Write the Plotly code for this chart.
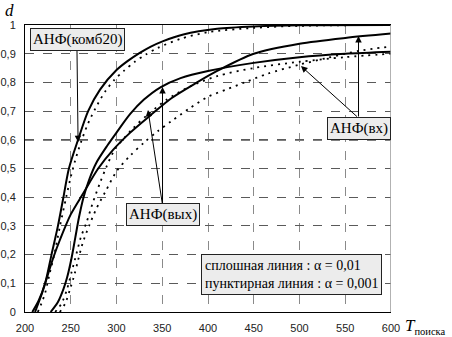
import plotly.graph_objects as go

# ---- data ----
t_komb_solid = [208, 215, 222, 229, 236, 242, 248, 258, 269, 282, 300, 312, 325, 337, 351, 373, 410, 450, 500, 600]
d_komb_solid = [0, 0.04, 0.1, 0.2, 0.3, 0.4, 0.5, 0.6, 0.7, 0.775, 0.843, 0.874, 0.902, 0.924, 0.944, 0.967, 0.987, 0.995, 0.999, 1.0]

t_komb_dot = [214, 218, 222, 227, 232, 238, 245, 250, 255, 261, 268, 277, 288, 298, 308, 320, 332, 345, 370, 400, 450, 500, 600]
d_komb_dot = [0, 0.03, 0.066, 0.135, 0.2, 0.296, 0.4, 0.47, 0.53, 0.59, 0.65, 0.71, 0.77, 0.81, 0.84, 0.872, 0.897, 0.92, 0.952, 0.975, 0.99, 0.997, 1.0]

t_vx_solid = [211, 218, 224, 231, 238, 250, 263, 280, 296, 315, 337, 360, 388, 410, 450, 500, 550, 600]
d_vx_solid = [0, 0.06, 0.12, 0.19, 0.25, 0.34, 0.41, 0.5, 0.564, 0.625, 0.685, 0.745, 0.8, 0.84, 0.9, 0.935, 0.955, 0.97]

t_vx_dot = [238, 244, 249, 254, 258, 263, 270, 278, 288, 300, 315, 330, 345, 360, 380, 400, 420, 440, 465, 500, 530, 565, 600]
d_vx_dot = [0, 0.03, 0.077, 0.13, 0.18, 0.24, 0.3, 0.36, 0.42, 0.49, 0.545, 0.59, 0.63, 0.665, 0.71, 0.75, 0.775, 0.8, 0.83, 0.862, 0.885, 0.91, 0.925]

t_vyh_solid = [228, 236, 242, 246, 251, 255, 259, 264, 270, 278, 290, 300, 315, 330, 348, 370, 400, 450, 500, 550, 600]
d_vyh_solid = [0, 0.035, 0.08, 0.12, 0.19, 0.26, 0.33, 0.4, 0.46, 0.52, 0.58, 0.625, 0.69, 0.74, 0.783, 0.815, 0.84, 0.868, 0.888, 0.9, 0.907]

t_vyh_dot = [233, 240, 246, 251, 256, 261, 267, 274, 282, 289, 298, 318, 335, 355, 380, 410, 450, 500, 550, 600]
d_vyh_dot = [0, 0.03, 0.08, 0.14, 0.2, 0.26, 0.31, 0.38, 0.45, 0.506, 0.565, 0.64, 0.69, 0.74, 0.785, 0.822, 0.85, 0.872, 0.888, 0.9]

x_ticks = [200, 250, 300, 350, 400, 450, 500, 550, 600]
x_tick_labels = ["200", "250", "300", "350", "400", "450", "500", "550", "600"]
y_ticks = [0, 0.1, 0.2, 0.3, 0.4, 0.5, 0.6, 0.7, 0.8, 0.9, 1.0]
y_tick_labels = ["0", "0,1", "0,2", "0,3", "0,4", "0,5", "0,6", "0,7", "0,8", "0,9", "1"]

SERIF = "Liberation Serif"
SANS = "Liberation Sans"

W, H = 452, 337
ML, MR, MT, MB = 25, 61, 25, 25
PW, PH = W - ML - MR, H - MT - MB

fig = go.Figure()

solid = dict(color="black", width=2)
dotted = dict(color="black", width=1.8, dash="2px,5px")

for t, d in [(t_komb_solid, d_komb_solid), (t_vx_solid, d_vx_solid), (t_vyh_solid, d_vyh_solid)]:
    fig.add_trace(go.Scatter(x=t, y=d, mode="lines", line=dict(**solid, shape="spline", smoothing=0.8),
                             showlegend=False, hoverinfo="skip"))
for t, d in [(t_komb_dot, d_komb_dot), (t_vx_dot, d_vx_dot), (t_vyh_dot, d_vyh_dot)]:
    fig.add_trace(go.Scatter(x=t, y=d, mode="lines", line=dict(**dotted, shape="spline", smoothing=0.8),
                             showlegend=False, hoverinfo="skip"))

annotations = []

def box_label(text, x, y):
    annotations.append(dict(x=x, y=y, xref="x", yref="y", text=text, showarrow=False,
                            font=dict(family=SERIF, size=15, color="black"),
                            bgcolor="#ececec", bordercolor="#222", borderwidth=1, borderpad=2))

def arrow(tail, tip):
    annotations.append(dict(x=tip[0], y=tip[1], ax=tail[0], ay=tail[1], xref="x", yref="y",
                            axref="x", ayref="y", text="", showarrow=True, arrowhead=2,
                            arrowsize=1.3, arrowwidth=1, arrowcolor="black", standoff=0, startstandoff=0))

arrow((256.8, 0.916), (258.0, 0.592))
arrow((350.3, 0.373), (350.3, 0.784))
arrow((350.3, 0.373), (334.4, 0.704))
arrow((564.5, 0.676), (564.5, 0.962))
arrow((564.5, 0.676), (501.6, 0.857))

box_label("АНФ(комб20)", 257.4, 0.951)
box_label("АНФ(вых)", 350.8, 0.338)
box_label("АНФ(вх)", 565.0, 0.641)

annotations.append(dict(x=491.3, y=0.1307, xref="x", yref="y",
                        text="сплошная линия : α = 0,01<br>пунктирная линия : α = 0,001",
                        showarrow=False, align="left",
                        font=dict(family=SERIF, size=14, color="black"),
                        bgcolor="#ececec", bordercolor="#222", borderwidth=1, borderpad=3))

annotations.append(dict(x=(9 - ML) / PW, y=(MT + PH - 11) / PH, xref="paper", yref="paper", text="<i>d</i>",
                        showarrow=False, xanchor="center", yanchor="middle",
                        font=dict(family=SERIF, size=17, color="black")))
annotations.append(dict(x=(403 - ML) / PW, y=(MT + PH - 326) / PH, xref="paper", yref="paper",
                        text="<i>T</i><sub><span style='font-size:10.5px'>поиска</span></sub>",
                        xanchor="left", yanchor="middle",
                        showarrow=False, font=dict(family=SERIF, size=17, color="black")))

fig.update_layout(
    width=W, height=H,
    margin=dict(l=ML, r=MR, t=MT, b=MB, autoexpand=False),
    paper_bgcolor="white", plot_bgcolor="white",
    annotations=annotations,
    showlegend=False,
)

fig.update_xaxes(range=[200, 600], tickvals=x_ticks, ticktext=x_tick_labels, automargin=False,
                 showgrid=True, gridcolor="#8a8a8a", griddash="dash", gridwidth=1,
                 showline=True, linecolor="black", linewidth=1, mirror=True,
                 zeroline=False, ticks="", ticklabelstandoff=6,
                 tickfont=dict(family=SANS, size=11, color="#222"))
fig.update_yaxes(range=[0, 1], tickvals=y_ticks, ticktext=y_tick_labels, automargin=False,
                 showgrid=True, gridcolor="#5a5a5a", griddash="dash", gridwidth=1,
                 showline=True, linecolor="black", linewidth=1, mirror=False,
                 zeroline=False, ticks="", ticklabelstandoff=6,
                 tickfont=dict(family=SANS, size=11, color="#222"))

fig.add_shape(type="line", xref="x", yref="y", x0=200, x1=600, y0=0.6, y1=0.6,
              line=dict(color="black", width=1.3, dash="dash"), layer="below")
fig.add_shape(type="line", xref="x", yref="y", x0=600, x1=600, y0=0, y1=1,
              line=dict(color="#999", width=1.5))

fig.write_html("out.html", config={"displayModeBar": False},
               post_script="document.body.style.margin='0';")
